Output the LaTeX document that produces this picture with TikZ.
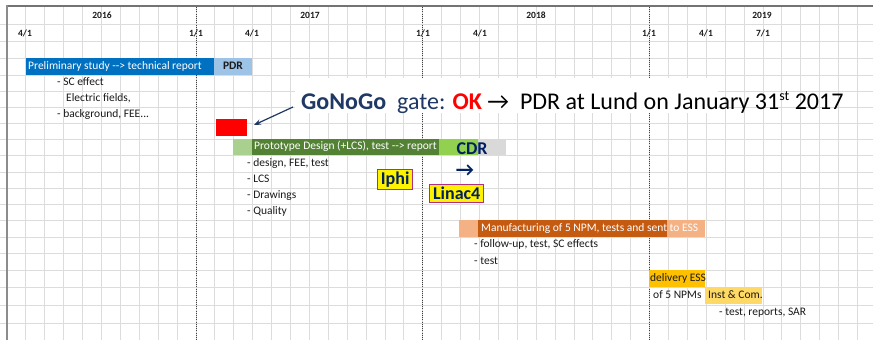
\documentclass[tikz,border=0pt]{standalone}
\usepackage{fontspec}
\setmainfont{Carlito}
\newfontfamily\symfont{DejaVu Sans}
\usetikzlibrary{arrows.meta}
\definecolor{gridc}{HTML}{DCDCDC}
\definecolor{txt}{HTML}{1A1A1A}
\definecolor{navy}{HTML}{1F3864}
\definecolor{cdrblue}{HTML}{002060}
\definecolor{bluebar}{HTML}{0070C0}
\definecolor{pdrblue}{HTML}{9DC3E6}
\definecolor{dgreen}{HTML}{548235}
\definecolor{lgreen}{HTML}{A9D08E}
\definecolor{bgreen}{HTML}{92D050}
\definecolor{lgray}{HTML}{D9D9D9}
\definecolor{dorange}{HTML}{C55A11}
\definecolor{lorange}{HTML}{F4B183}
\definecolor{gold}{HTML}{FFC000}
\definecolor{lgold}{HTML}{FFD966}
\definecolor{magbox}{HTML}{B0307F}
\definecolor{okred}{HTML}{FF0000}
\newcommand{\dda}{-\kern0pt-\kern0pt>}
\begin{document}
\begin{tikzpicture}[x=1pt,y=-1pt,
  gridline/.style={gridc, line width=0.9pt},
  datedot/.style={black!75, line width=0.7pt, dash pattern=on 1pt off 1.2pt},
  bar/.style={draw=none, inner sep=0pt, outer sep=0pt, anchor=north west},
  small/.style={font=\fontsize{11.5}{13}\selectfont, inner sep=0pt, anchor=west, text=txt, text height=7.8pt, text depth=2.4pt},
  bartext/.style={small, text=white},
  hdr/.style={font=\bfseries\fontsize{9.5}{11}\selectfont, inner sep=0pt, text=txt},
  tag/.style={draw=magbox, line width=1.4pt, fill=yellow, inner sep=0pt, anchor=north west, text=cdrblue, font=\bfseries\fontsize{18}{20}\selectfont}
]
\useasboundingbox (0,0) rectangle (873,340);
\fill[white] (0,0) rectangle (873,340);
% grid
\foreach \k in {1,...,45} {\draw[gridline] ({7+18.9*\k},6) -- ({7+18.9*\k},340);}
\foreach \y in {24,41,58,75,91,107,123,139,155,172,188,204,220,237,253,270,287,305,323} {\draw[gridline] (0,\y) -- (873,\y);}
\foreach \k in {10,22,34} {\draw[datedot] ({7+18.9*\k},7) -- ({7+18.9*\k},340);}
\draw[black!55, line width=1.3pt] (7,6) -- (873,6);
\draw[black!45, line width=2pt] (7,5.4) -- (7,340);
% white box behind the big text
\fill[white] (295,78) rectangle (718,113);
% header
\node[hdr] (y2016) at (102,15) {2016};
\node[hdr] (y2017) at (310,15) {2017};
\node[hdr] (y2018) at (536,15) {2018};
\node[hdr] (y2019) at (762,15) {2019};
\node[hdr] (m1) at (25,33) {4/1};
\node[hdr] (m2) at (196,33) {1/1};
\node[hdr] (m3) at (252,33) {4/1};
\node[hdr] (m4) at (423,33) {1/1};
\node[hdr] (m5) at (480,33) {4/1};
\node[hdr] (m6) at (649,33) {1/1};
\node[hdr] (m7) at (706,33) {4/1};
\node[hdr] (m8) at (763,33) {7/1};
% preliminary study
\node[bar, fill=bluebar, minimum width=188pt, minimum height=17pt] (prelim) at (26,58) {};
\node[bar, fill=pdrblue, minimum width=38pt, minimum height=17pt] (pdr) at (214,58) {};
\node[bartext] (prelimtxt) at (28,66.5) {Preliminary study \dda{} technical report};
\node[small, anchor=center, font=\bfseries\fontsize{11.5}{13}\selectfont] (pdrtxt) at (pdr.center) {PDR};
\node[small] (sc) at (57,83) {- SC effect};
\node[small] (ef) at (66,99) {Electric fields,};
\node[small] (bg) at (57,115) {- background, FEE...};
% gate
\node[bar, fill=okred, minimum width=31pt, minimum height=17pt] (gate) at (216,119) {};
\node[inner sep=0pt, anchor=base west, font=\fontsize{24}{28}\selectfont] (gatetxt) at (301,109)
  {{\color{navy}\bfseries GoNoGo}\ \ {\color{navy}gate:} {\color{okred}\bfseries OK} →\ \ PDR at Lund on January 31\raisebox{0.75ex}{\fontsize{14}{15}\selectfont st} 2017};
\coordinate (gs) at (293,107);
\coordinate (ge) at (254,125);
\draw[navy, line width=1.2pt, -{Stealth[length=7pt,width=5.5pt]}] (gs) -- (ge);
% prototype
\node[bar, fill=lgreen, minimum width=19pt, minimum height=16pt] (protoa) at (233,139) {};
\node[bar, fill=dgreen, minimum width=187pt, minimum height=16pt] (protob) at (252,139) {};
\node[bar, fill=bgreen, minimum width=39pt, minimum height=16pt] (protoc) at (439,139) {};
\node[bar, fill=lgray, minimum width=28pt, minimum height=16pt] (protod) at (478,139) {};
\node[bartext] (prototxt) at (254,147) {Prototype Design (+LCS), test \dda{} report};
\node[inner sep=0pt, text=cdrblue, font=\bfseries\fontsize{18}{20}\selectfont] (cdr) at (472,148.5) {CDR};
\node[inner sep=0pt, text=cdrblue, font=\bfseries\fontsize{20}{22}\selectfont] (cdrarrow) at (465,171) {→};
\node[small] (p1) at (247,164) {- design, FEE, test};
\node[small] (p2) at (247,180) {- LCS};
\node[small] (p3) at (247,196) {- Drawings};
\node[small] (p4) at (247,212) {- Quality};
\node[tag, minimum width=35pt, minimum height=20pt] (iphi) at (377,169) {Iphi};
\node[tag, minimum width=54pt, minimum height=18pt] (linac) at (429,184) {Linac4};
% manufacturing
\node[bar, fill=lorange, minimum width=19pt, minimum height=17pt] (mana) at (459,220) {};
\node[bar, fill=dorange, minimum width=189pt, minimum height=17pt] (manb) at (478,220) {};
\node[bar, fill=lorange, minimum width=38pt, minimum height=17pt] (manc) at (667,220) {};
\node[bartext] (mantxt) at (481,228.5) {Manufacturing of 5 NPM, tests and sent to ESS};
\node[small] (mf1) at (474,245) {- follow-up, test, SC effects};
\node[small] (mf2) at (474,262) {- test};
% delivery
\node[bar, fill=gold, minimum width=56pt, minimum height=17pt] (deliv) at (649,270) {};
\node[small] (delivtxt) at (650,278.5) {delivery ESS};
\node[small] (npm) at (653,296) {of 5 NPMs};
\node[bar, fill=lgold, minimum width=57pt, minimum height=17pt] (inst) at (705,287) {};
\node[small] (insttxt) at (708,295.5) {Inst \& Com.};
\node[small] (sar) at (719,313) {- test, reports, SAR};
\end{tikzpicture}
\end{document}
